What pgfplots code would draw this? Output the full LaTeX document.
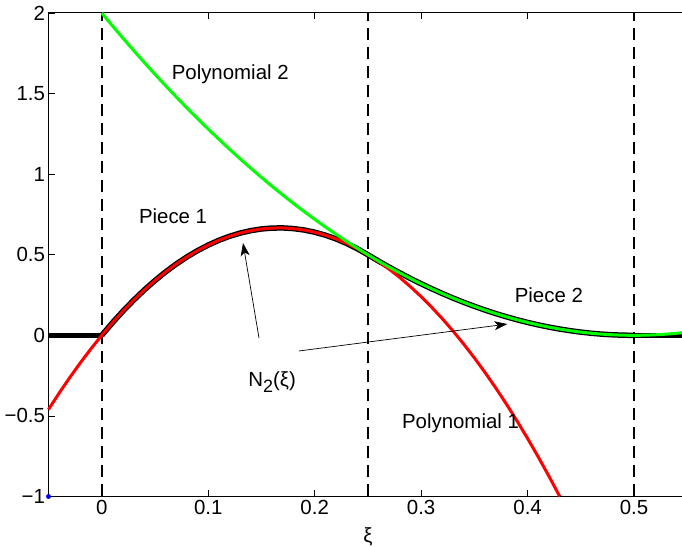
\documentclass[border=0pt]{standalone}
\usepackage{fontspec}
\setmainfont{Liberation Sans}
\usepackage{pgfplots}
\usepackage{pgfplotstable}
\pgfplotsset{compat=1.18}
\usetikzlibrary{arrows.meta}
\newcommand\ff{\fontsize{20.5}{24}\selectfont}
\definecolor{mred}{RGB}{255,0,0}
\definecolor{mgreen}{RGB}{0,255,0}
\pgfplotstableread{
x y
-0.05 -0.46
-0.04 -0.3584
-0.03 -0.2616
-0.02 -0.1696
-0.01 -0.0824
0.00 0
0.01 0.0776
0.02 0.1504
0.03 0.2184
0.04 0.2816
0.05 0.34
0.06 0.3936
0.07 0.4424
0.08 0.4864
0.09 0.5256
0.10 0.56
0.11 0.5896
0.12 0.6144
0.13 0.6344
0.14 0.6496
0.15 0.66
0.16 0.6656
0.17 0.6664
0.18 0.6624
0.19 0.6536
0.20 0.64
0.21 0.6216
0.22 0.5984
0.23 0.5704
0.24 0.5376
0.25 0.5
0.26 0.4576
0.27 0.4104
0.28 0.3584
0.29 0.3016
0.30 0.24
0.31 0.1736
0.32 0.1024
0.33 0.0264
0.34 -0.0544
0.35 -0.14
0.36 -0.2304
0.37 -0.3256
0.38 -0.4256
0.39 -0.5304
0.40 -0.64
0.41 -0.7544
0.42 -0.8736
0.43 -0.9976
0.4302 -1.0
}\polyone
\pgfplotstableread{
x y
0.00 2
0.01 1.9208
0.02 1.8432
0.03 1.7672
0.04 1.6928
0.05 1.62
0.06 1.5488
0.07 1.4792
0.08 1.4112
0.09 1.3448
0.10 1.28
0.11 1.2168
0.12 1.1552
0.13 1.0952
0.14 1.0368
0.15 0.98
0.16 0.9248
0.17 0.8712
0.18 0.8192
0.19 0.7688
0.20 0.72
0.21 0.6728
0.22 0.6272
0.23 0.5832
0.24 0.5408
0.25 0.5
0.26 0.4608
0.27 0.4232
0.28 0.3872
0.29 0.3528
0.30 0.32
0.31 0.2888
0.32 0.2592
0.33 0.2312
0.34 0.2048
0.35 0.18
0.36 0.1568
0.37 0.1352
0.38 0.1152
0.39 0.0968
0.40 0.08
0.41 0.0648
0.42 0.0512
0.43 0.0392
0.44 0.0288
0.45 0.02
0.46 0.0128
0.47 0.0072
0.48 0.0032
0.49 0.0008
0.50 0
0.51 0.0008
0.52 0.0032
0.53 0.0072
0.54 0.0128
0.55 0.02
}\polytwo
\begin{document}
\begin{tikzpicture}
\useasboundingbox (-48.5bp,-50.5bp) rectangle (633.5bp,496.5bp);
\clip (-48.5bp,-50.5bp) rectangle (633.5bp,496.5bp);
\begin{axis}[
  at={(0,0)}, anchor=south west,
  scale only axis, width=638.8bp, height=483.5bp,
  xmin=-0.05, xmax=0.55, ymin=-1, ymax=2,
  clip=false,
  axis line style={line width=1bp},
  tick style={line width=0.8bp, black},
  tick align=inside, major tick length=6bp,
  xtick={0,0.1,0.2,0.3,0.4,0.5},
  xticklabels={0,0.1,0.2,0.3,0.4,0.5},
  ytick={-1,-0.5,0,0.5,1,1.5,2},
  yticklabels={−1,−0.5,0,0.5,1,1.5,2},
  xtick pos=both, ytick pos=left,
  tick label style={font=\ff},
  xlabel={ξ}, xlabel style={font=\ff},
  every axis x label/.append style={yshift=-6bp},
]
% dashed knot lines
\addplot[black, line width=1.6bp, dash pattern=on 12bp off 7bp] coordinates {(0,-1) (0,2)};
\addplot[black, line width=1.5bp, dash pattern=on 12bp off 7bp] coordinates {(0.25,-1) (0.25,2)};
\addplot[black, line width=1.5bp, dash pattern=on 12bp off 7bp] coordinates {(0.5,-1) (0.5,2)};
% N2 (black, thick)
\addplot[black, line width=5.5bp] coordinates {(-0.05,0) (0,0)};
\addplot[black, line width=5.5bp] coordinates {(0.5,0) (0.55,0)};
\addplot[black, line width=5.5bp, restrict x to domain=0:0.25] table {\polyone};
\addplot[black, line width=5.5bp, restrict x to domain=0.25:0.5] table {\polytwo};
% polynomials
\addplot[mred, line width=3bp] table {\polyone};
\addplot[mgreen, line width=3bp] table {\polytwo};
% blue point
\addplot[only marks, mark=*, blue, mark size=2.2bp] coordinates {(-0.05,-1)};
% arrows
\addplot[black, line width=0.7bp, -{Stealth[length=13bp,width=9bp,inset=3.5bp]}] coordinates {(0.1477,-0.016) (0.1327,0.573)};
\addplot[black, line width=0.7bp, -{Stealth[length=13bp,width=9bp,inset=3.5bp]}] coordinates {(0.1853,-0.097) (0.381,0.070)};
% texts
\node[font=\ff] at (axis cs:0.1207,1.62) {Polynomial 2};
\node[font=\ff] at (axis cs:0.067,0.74) {Piece 1};
\node[font=\ff] at (axis cs:0.42,0.25) {Piece 2};
\node[font=\ff] at (axis cs:0.16,-0.29) {N\raisebox{-6bp}{\fontsize{18}{20}\selectfont 2}(ξ)};
\node[font=\ff] at (axis cs:0.337,-0.545) {Polynomial 1};
\end{axis}
\end{tikzpicture}
\end{document}
